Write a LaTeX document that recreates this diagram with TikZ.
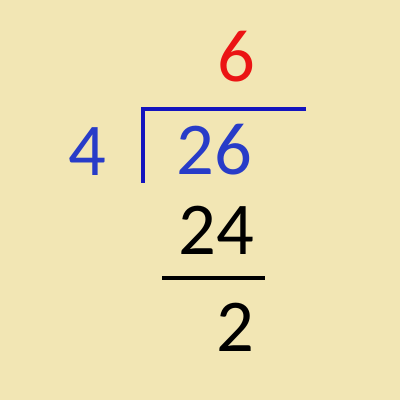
\documentclass[tikz,border=0pt]{standalone}
\usepackage{fontspec}
\setmainfont{Carlito}
\usepackage{tikz}
\definecolor{paper}{RGB}{242,230,180}
\definecolor{digitblue}{RGB}{40,60,200}
\definecolor{lineblue}{RGB}{20,20,190}
\definecolor{digitred}{RGB}{235,20,20}
\tikzset{digits/.style={inner sep=0pt, font=\fontsize{53}{58}\selectfont}}

\begin{document}
\begin{tikzpicture}[x=0.025cm, y=-0.025cm]
  \fill [paper] (0,0) rectangle (400,400);
  \useasboundingbox (0,0) rectangle (400,400);
  \node [digits, digitred] (quot) at (236,57) {6};
  \node [digits, digitblue] (divisor) at (87.5,152) {4};
  \node [digits, digitblue] (dividend) at (214,150) {26};
  \node [digits] (prod) at (216,230) {24};
  \node [digits] (rem) at (235,327) {2};
  \draw [lineblue, line width=2.2pt] (306,109)--(143,109)--(143,183);
  \draw [line width=2.2pt] (162,278)--(265,278);
\end{tikzpicture}
\end{document}
